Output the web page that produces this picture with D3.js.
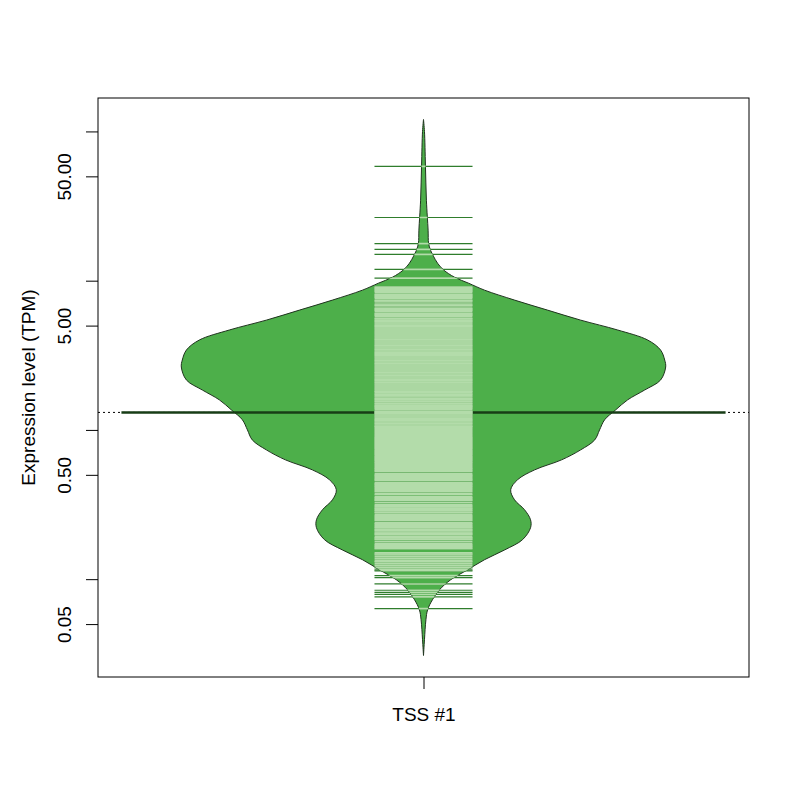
<!DOCTYPE html>
<html>
<head>
<meta charset="utf-8">
<script src="https://cdn.jsdelivr.net/npm/d3@7"></script>
<style>
  body { margin: 0; background: #fff; }
  svg text { font-family: "Liberation Sans", Arial, Helvetica, sans-serif; }
</style>
</head>
<body>
<svg width="800" height="800"></svg>
<script>
// categories / labels
const categories = ["TSS #1"];
const yTicks = [0.05, 0.1, 0.5, 1, 5, 10, 50, 100];
const labelledTicks = [0.05, 0.5, 5, 50];
const tickLabels = ["0.05", "0.50", "5.00", "50.00"];

// bean outline: TPM value and relative density (max = 1)
const beanTPM = [120.3, 100, 59.2, 34.6, 21.8, 17.8, 16.0, 14.6, 13.1, 11.8, 10.55, 9.62, 8.64, 7.41,
  6.35, 5.44, 4.67, 4.00, 3.43, 2.94, 2.64, 2.16, 1.85, 1.59, 1.36, 1.17, 1.00, 0.857, 0.735, 0.630,
  0.540, 0.463, 0.397, 0.340, 0.292, 0.250, 0.221, 0.184, 0.157, 0.135, 0.1155, 0.099, 0.0849,
  0.0728, 0.0624, 0.0535, 0.0393, 0.0308];
const beanDensity = [0, 0.004, 0.008, 0.012, 0.019, 0.021, 0.029, 0.041, 0.058, 0.083, 0.128, 0.186,
  0.252, 0.376, 0.512, 0.649, 0.802, 0.926, 0.979, 0.996, 1, 0.979, 0.913, 0.843, 0.793, 0.748,
  0.727, 0.707, 0.649, 0.570, 0.459, 0.388, 0.360, 0.376, 0.417, 0.442, 0.442, 0.409, 0.335, 0.252,
  0.182, 0.112, 0.066, 0.037, 0.017, 0.010, 0.004, 0];

// individual observations (bean lines), TPM
const obsTPM = [
  58.3, 26.5, 17.7, 16.2, 15.0, 11.9, 10.4,
  9.05, 8.91, 8.78, 8.64, 8.51, 8.38, 8.13, 8.00, 7.88, 7.76, 7.64, 7.41, 7.30, 7.19, 6.97, 6.86,
  6.76, 6.55, 6.45, 6.35, 6.25, 6.06, 5.97, 5.88, 5.79,
  5.61, 5.53, 5.44, 5.36, 5.28, 5.20, 5.12, 5.04, 4.96, 4.89, 4.82, 4.74, 4.67, 4.60, 4.53, 4.46,
  4.39, 4.32, 4.26, 4.19, 4.13, 4.06, 4.00, 3.94, 3.88, 3.82, 3.76, 3.70, 3.65, 3.59, 3.54, 3.48,
  3.43, 3.38, 3.32, 3.27, 3.22, 3.17, 3.13, 3.08, 3.03, 2.99, 2.94, 2.90, 2.85, 2.81, 2.77, 2.72,
  2.68, 2.64, 2.60, 2.56, 2.52, 2.48, 2.44, 2.41, 2.37, 2.33, 2.30, 2.26, 2.23, 2.19, 2.16, 2.13,
  2.09, 2.06, 2.03, 2.00, 1.97, 1.94, 1.91, 1.88, 1.85, 1.82, 1.80, 1.77, 1.74, 1.72, 1.69, 1.66,
  1.63, 1.61, 1.59, 1.56, 1.54, 1.51, 1.49, 1.47, 1.45, 1.43, 1.41, 1.39, 1.37, 1.34, 1.32, 1.30,
  1.28, 1.26, 1.24, 1.22, 1.20, 1.18, 1.165, 1.15, 1.13, 1.11, 1.095, 1.08, 1.06, 1.05, 1.034,
  1.018, 1.003, 0.987, 0.972, 0.957, 0.943, 0.928, 0.914, 0.898, 0.884, 0.871, 0.858, 0.844,
  0.831, 0.819, 0.806, 0.794, 0.782, 0.770, 0.758, 0.747, 0.735, 0.724, 0.713, 0.702, 0.691,
  0.681, 0.670, 0.660, 0.650, 0.640, 0.630, 0.621, 0.611, 0.602, 0.593, 0.584, 0.575,
  0.566, 0.557, 0.549, 0.540, 0.532, 0.524, 0.508, 0.500, 0.493, 0.485, 0.478, 0.470, 0.463,
  0.456, 0.442, 0.435, 0.429, 0.422, 0.416, 0.410, 0.403, 0.397, 0.391, 0.385, 0.374, 0.368,
  0.356, 0.351, 0.345, 0.340, 0.335, 0.325, 0.315, 0.310, 0.305, 0.300, 0.296, 0.291, 0.287,
  0.282, 0.278, 0.270, 0.266, 0.262, 0.258, 0.254, 0.250, 0.246, 0.239, 0.235, 0.232, 0.228,
  0.224, 0.221, 0.217, 0.214, 0.211, 0.207, 0.204, 0.201, 0.198, 0.192, 0.189, 0.186, 0.184,
  0.178, 0.173, 0.170, 0.167, 0.165, 0.162, 0.160, 0.150, 0.1475, 0.1453, 0.141, 0.1367, 0.1325,
  0.1305, 0.1266, 0.1228, 0.1191, 0.1155, 0.1138,
  0.1056, 0.1024, 0.0929, 0.0843, 0.0815, 0.0790, 0.0761, 0.0635
];

const medianTPM = 1.31;
const overallTPM = 1.31;

const col = { bean: "#4daf4a", inner: "#b3dcaa", outer: "#2f7d2c", avg: "#173d16", border: "#1f331e" };

const svg = d3.select("svg");
const boxL = 98, boxR = 749, boxT = 98, boxB = 677;

const x = d3.scaleLinear().domain([0.5, 1.5]).range([boxL, boxR]);
const y = d3.scaleLog().domain([0.0221, 167.5]).range([boxB, boxT]);
const w = d3.scaleLinear().domain([0, 1]).range([0, 0.372]);

const bean = beanTPM.map((v, i) => ({ v: v, d: beanDensity[i] }));
const area = d3.area()
  .y(d => y(d.v))
  .x0(d => x(1 - w(d.d)))
  .x1(d => x(1 + w(d.d)))
  .curve(d3.curveCatmullRom.alpha(0.5));

svg.append("defs").append("clipPath").attr("id", "beanClip")
  .append("path").attr("d", area(bean));

// overall average (dotted)
svg.append("line")
  .attr("x1", boxL).attr("x2", boxR)
  .attr("y1", y(overallTPM)).attr("y2", y(overallTPM))
  .attr("stroke", "#000").attr("stroke-width", 1).attr("stroke-dasharray", "2,3");

// bean
svg.append("path").attr("d", area(bean))
  .attr("fill", col.bean).attr("stroke", col.border).attr("stroke-width", 1);

// median line
svg.append("line")
  .attr("x1", x(1 - 0.464)).attr("x2", x(1 + 0.464))
  .attr("y1", y(medianTPM)).attr("y2", y(medianTPM))
  .attr("stroke", col.avg).attr("stroke-width", 2.5);

// bean lines: dark outside, light inside the bean
const half = 0.0753;
svg.append("g").selectAll("line").data(obsTPM).enter().append("line")
  .attr("x1", x(1 - half)).attr("x2", x(1 + half))
  .attr("y1", d => y(d)).attr("y2", d => y(d))
  .attr("stroke", col.outer).attr("stroke-width", 1.2);

svg.append("g").attr("clip-path", "url(#beanClip)")
  .selectAll("line").data(obsTPM).enter().append("line")
  .attr("x1", x(1 - half)).attr("x2", x(1 + half))
  .attr("y1", d => y(d)).attr("y2", d => y(d))
  .attr("stroke", col.inner).attr("stroke-width", 1.6);

// box
svg.append("rect")
  .attr("x", boxL).attr("y", boxT)
  .attr("width", boxR - boxL).attr("height", boxB - boxT)
  .attr("fill", "none").attr("stroke", "#000").attr("stroke-width", 1);

// y axis
const yAxis = d3.axisLeft(y).tickValues(yTicks).tickSize(12)
  .tickFormat(d => {
    const i = labelledTicks.indexOf(d);
    return i >= 0 ? tickLabels[i] : "";
  });
const gy = svg.append("g").attr("transform", `translate(${boxL},0)`).call(yAxis);
gy.select(".domain").remove();
gy.selectAll(".tick line").attr("stroke", "#000");
gy.selectAll(".tick text")
  .attr("transform", "rotate(-90)")
  .attr("x", 0).attr("y", -27).attr("dy", 0)
  .attr("text-anchor", "middle")
  .attr("font-size", 19).attr("fill", "#000")
  .style("font-family", "'Liberation Sans', Arial, sans-serif");

// x axis
const xAxis = d3.axisBottom(x).tickValues([1]).tickSize(12)
  .tickFormat(d => categories[d - 1]);
const gx = svg.append("g").attr("transform", `translate(0,${boxB})`).call(xAxis);
gx.select(".domain").remove();
gx.selectAll(".tick line").attr("stroke", "#000");
gx.selectAll(".tick text")
  .attr("y", 44).attr("dy", 0)
  .attr("font-size", 19).attr("fill", "#000")
  .style("font-family", "'Liberation Sans', Arial, sans-serif");

// axis title
svg.append("text")
  .attr("transform", `translate(35,${(boxT + boxB) / 2}) rotate(-90)`)
  .attr("text-anchor", "middle")
  .attr("font-size", 19)
  .text("Expression level (TPM)");
</script>
</body>
</html>
